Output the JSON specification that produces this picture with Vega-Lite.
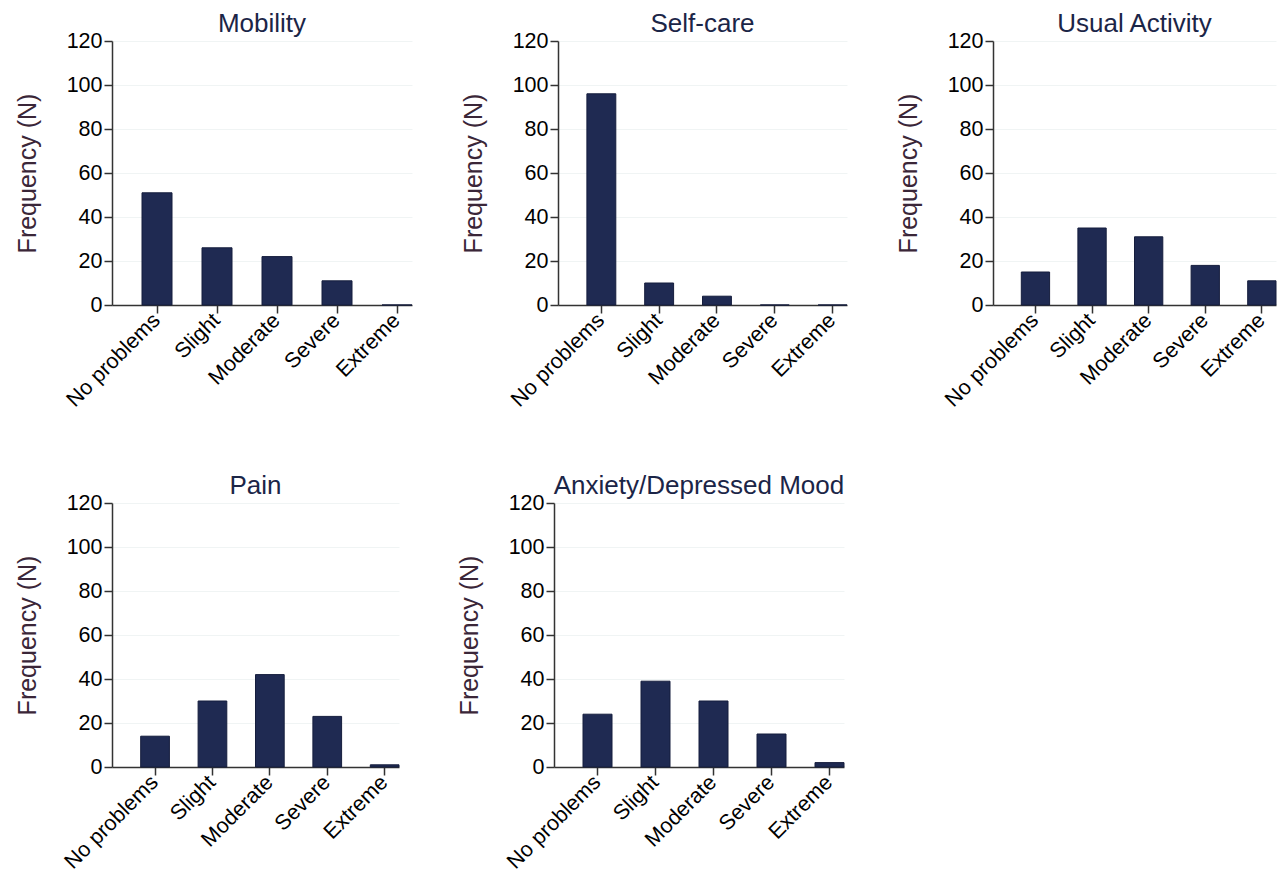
{
  "$schema": "https://vega.github.io/schema/vega-lite/v6.json",
  "padding": {"left": 15, "top": 11, "right": 0, "bottom": 0},
  "background": "white",
  "data": {"values": [
    {"domain": "Mobility", "level": "No problems", "n": 51},
    {"domain": "Mobility", "level": "Slight", "n": 26},
    {"domain": "Mobility", "level": "Moderate", "n": 22},
    {"domain": "Mobility", "level": "Severe", "n": 11},
    {"domain": "Mobility", "level": "Extreme", "n": 0},
    {"domain": "Self-care", "level": "No problems", "n": 96},
    {"domain": "Self-care", "level": "Slight", "n": 10},
    {"domain": "Self-care", "level": "Moderate", "n": 4},
    {"domain": "Self-care", "level": "Severe", "n": 0},
    {"domain": "Self-care", "level": "Extreme", "n": 0},
    {"domain": "Usual Activity", "level": "No problems", "n": 15},
    {"domain": "Usual Activity", "level": "Slight", "n": 35},
    {"domain": "Usual Activity", "level": "Moderate", "n": 31},
    {"domain": "Usual Activity", "level": "Severe", "n": 18},
    {"domain": "Usual Activity", "level": "Extreme", "n": 11},
    {"domain": "Pain", "level": "No problems", "n": 14},
    {"domain": "Pain", "level": "Slight", "n": 30},
    {"domain": "Pain", "level": "Moderate", "n": 42},
    {"domain": "Pain", "level": "Severe", "n": 23},
    {"domain": "Pain", "level": "Extreme", "n": 1},
    {"domain": "Anxiety/Depressed Mood", "level": "No problems", "n": 24},
    {"domain": "Anxiety/Depressed Mood", "level": "Slight", "n": 39},
    {"domain": "Anxiety/Depressed Mood", "level": "Moderate", "n": 30},
    {"domain": "Anxiety/Depressed Mood", "level": "Severe", "n": 15},
    {"domain": "Anxiety/Depressed Mood", "level": "Extreme", "n": 2}
  ]},
  "config": {
    "view": {"stroke": null},
    "title": {"font": "Liberation Sans", "fontSize": 26, "fontWeight": "normal", "color": "#1b2547", "offset": -7},
    "axis": {
      "labelFont": "Liberation Sans", "labelFontSize": 21.5, "labelColor": "#000000",
      "titleFont": "Liberation Sans", "titleFontSize": 25, "titleFontWeight": "normal", "titleColor": "#3a2638",
      "domainColor": "#333333", "domainWidth": 1.5, "tickColor": "#333333", "tickWidth": 1.5, "tickSize": 8,
      "gridColor": "#f0f4f4", "gridWidth": 1
    },
    "bar": {"color": "#1f2a52", "stroke": "#151d3d", "strokeWidth": 1}
  },
  "spacing": 62,
  "vconcat": [
    {
      "spacing": 48,
      "hconcat": [
        {
          "title": "Mobility", "width": 300, "height": 264,
          "transform": [{"filter": "datum.domain === 'Mobility'"}],
          "mark": "bar",
          "encoding": {
            "x": {"field": "level", "type": "nominal", "sort": ["No problems", "Slight", "Moderate", "Severe", "Extreme"], "scale": {"paddingInner": 0.5, "paddingOuter": 0.25, "align": 1}, "axis": {"title": null, "labelAngle": -45, "labelAlign": "right", "labelBaseline": "middle", "labelPadding": 4, "grid": false}},
            "y": {"field": "n", "type": "quantitative", "scale": {"domain": [0, 120]}, "axis": {"title": "Frequency (N)", "values": [0, 20, 40, 60, 80, 100, 120], "grid": true, "titlePadding": 26}}
          }
        },
        {
          "title": "Self-care", "width": 289, "height": 264,
          "transform": [{"filter": "datum.domain === 'Self-care'"}],
          "mark": "bar",
          "encoding": {
            "x": {"field": "level", "type": "nominal", "sort": ["No problems", "Slight", "Moderate", "Severe", "Extreme"], "scale": {"paddingInner": 0.5, "paddingOuter": 0.25, "align": 1}, "axis": {"title": null, "labelAngle": -45, "labelAlign": "right", "labelBaseline": "middle", "labelPadding": 4, "grid": false}},
            "y": {"field": "n", "type": "quantitative", "scale": {"domain": [0, 120]}, "axis": {"title": "Frequency (N)", "values": [0, 20, 40, 60, 80, 100, 120], "grid": true, "titlePadding": 26}}
          }
        },
        {
          "title": "Usual Activity", "width": 283, "height": 264,
          "transform": [{"filter": "datum.domain === 'Usual Activity'"}],
          "mark": "bar",
          "encoding": {
            "x": {"field": "level", "type": "nominal", "sort": ["No problems", "Slight", "Moderate", "Severe", "Extreme"], "scale": {"paddingInner": 0.5, "paddingOuter": 0.25, "align": 1}, "axis": {"title": null, "labelAngle": -45, "labelAlign": "right", "labelBaseline": "middle", "labelPadding": 4, "grid": false}},
            "y": {"field": "n", "type": "quantitative", "scale": {"domain": [0, 120]}, "axis": {"title": "Frequency (N)", "values": [0, 20, 40, 60, 80, 100, 120], "grid": true, "titlePadding": 26}}
          }
        }
      ]
    },
    {
      "spacing": 57,
      "hconcat": [
        {
          "title": "Pain", "width": 287, "height": 264,
          "transform": [{"filter": "datum.domain === 'Pain'"}],
          "mark": "bar",
          "encoding": {
            "x": {"field": "level", "type": "nominal", "sort": ["No problems", "Slight", "Moderate", "Severe", "Extreme"], "scale": {"paddingInner": 0.5, "paddingOuter": 0.25, "align": 1}, "axis": {"title": null, "labelAngle": -45, "labelAlign": "right", "labelBaseline": "middle", "labelPadding": 4, "grid": false}},
            "y": {"field": "n", "type": "quantitative", "scale": {"domain": [0, 120]}, "axis": {"title": "Frequency (N)", "values": [0, 20, 40, 60, 80, 100, 120], "grid": true, "titlePadding": 26}}
          }
        },
        {
          "title": "Anxiety/Depressed Mood", "width": 290, "height": 264,
          "transform": [{"filter": "datum.domain === 'Anxiety/Depressed Mood'"}],
          "mark": "bar",
          "encoding": {
            "x": {"field": "level", "type": "nominal", "sort": ["No problems", "Slight", "Moderate", "Severe", "Extreme"], "scale": {"paddingInner": 0.5, "paddingOuter": 0.25, "align": 1}, "axis": {"title": null, "labelAngle": -45, "labelAlign": "right", "labelBaseline": "middle", "labelPadding": 4, "grid": false}},
            "y": {"field": "n", "type": "quantitative", "scale": {"domain": [0, 120]}, "axis": {"title": "Frequency (N)", "values": [0, 20, 40, 60, 80, 100, 120], "grid": true, "titlePadding": 26}}
          }
        }
      ]
    }
  ]
}
